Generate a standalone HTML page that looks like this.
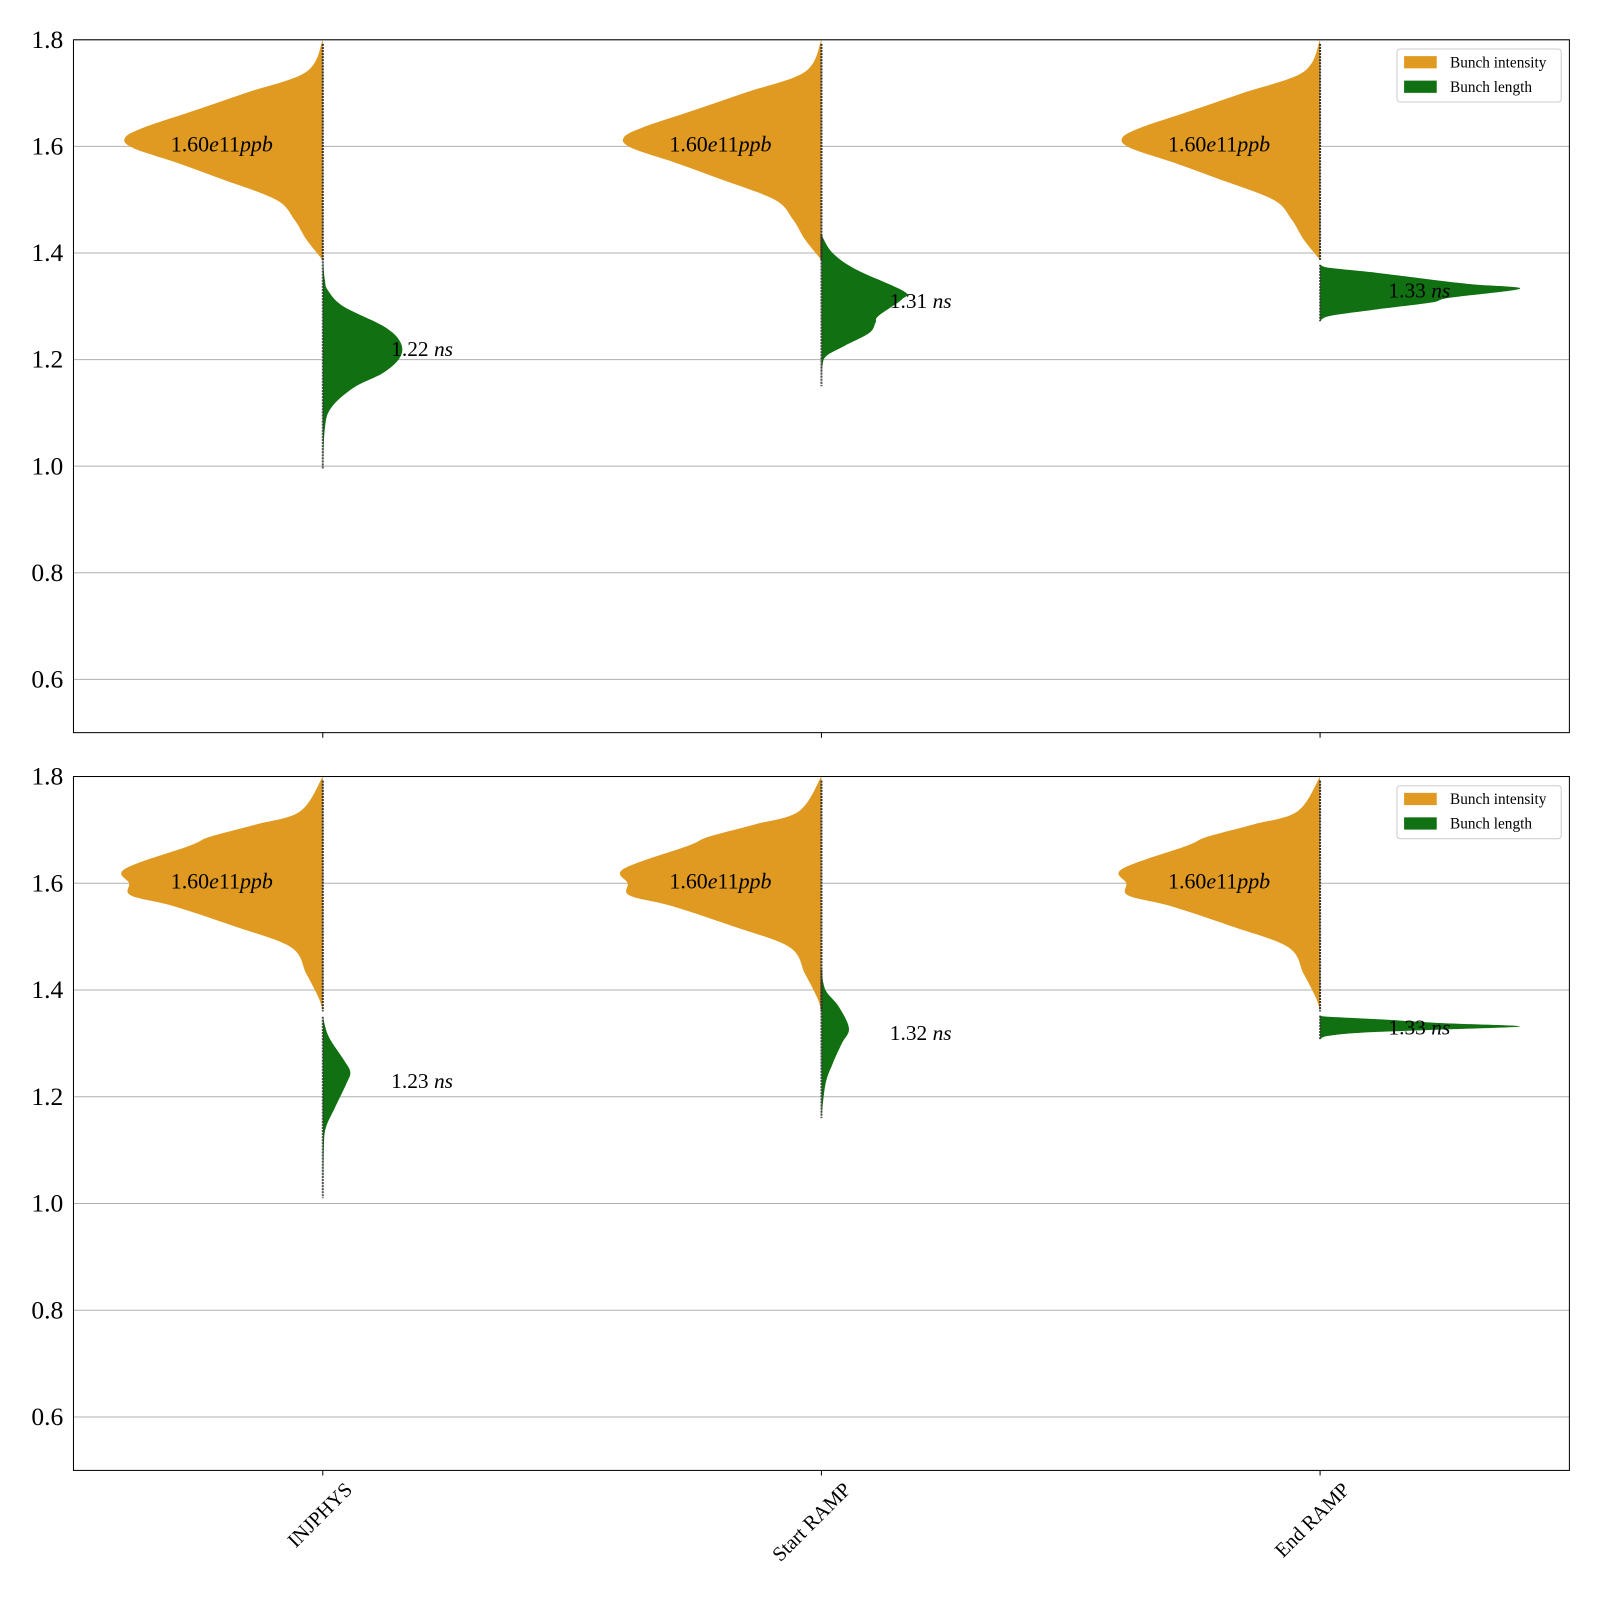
<!DOCTYPE html>
<html><head><meta charset="utf-8"><style>
html,body{margin:0;padding:0;background:#fff;}
svg{display:block;font-family:"Liberation Serif",serif;}
</style></head><body>
<svg id="chart" width="1600" height="1600" viewBox="0 0 1568 1568"></svg>
<script>
const categories = ["INJPHYS", "Start RAMP", "End RAMP"];
const yTicks = [0.6, 0.8, 1.0, 1.2, 1.4, 1.6, 1.8];
const intensityMeans = [[1.60, 1.60, 1.60], [1.60, 1.60, 1.60]];
const lengthMeans = [[1.22, 1.31, 1.33], [1.23, 1.32, 1.33]];
// orange intensity density profile (value, half-width in category units)
const orangeTopV = [1.80, 1.74, 1.70, 1.664, 1.635, 1.616, 1.597, 1.568, 1.54, 1.50, 1.463, 1.425, 1.387];
const orangeTopW = [0, 16, 76, 131, 176, 194, 186, 141, 101, 46, 28, 16, 0].map(w => w / 489);
const orangeBotV = [1.80, 1.735, 1.71, 1.687, 1.67, 1.627, 1.60, 1.577, 1.557, 1.519, 1.48, 1.43, 1.385, 1.36];
const orangeBotW = [0, 22, 66, 111, 131, 194, 190, 188, 146, 86, 31, 16, 4, 0].map(w => w / 489);
// green bunch-length density profiles per panel/category
const greenV = [
  [[1.39, 1.35, 1.33, 1.30, 1.262, 1.233, 1.205, 1.176, 1.147, 1.109, 1.07, 0.994],
   [1.434, 1.40, 1.369, 1.328, 1.313, 1.282, 1.269, 1.25, 1.226, 1.207, 1.188, 1.15],
   [1.378, 1.372, 1.363, 1.35, 1.341, 1.333, 1.316, 1.307, 1.294, 1.282, 1.272]],
  [[1.35, 1.312, 1.268, 1.246, 1.224, 1.18, 1.142, 1.104, 1.01],
   [1.438, 1.40, 1.369, 1.328, 1.30, 1.262, 1.224, 1.16],
   [1.352, 1.35, 1.345, 1.338, 1.332, 1.326, 1.32, 1.314, 1.308]]
];
const greenW = [
  [[0, 2, 5, 20, 60, 76, 76, 60, 30, 8, 2, 0],
   [0, 11, 34, 81, 79, 56, 53, 47, 23, 5, 1, 0],
   [0, 10, 55, 109, 150, 196, 127, 109, 55, 10, 0]],
  [[0, 6, 21, 27, 23, 12, 3, 1, 0],
   [0, 4, 17, 27, 20, 11, 4, 0],
   [0, 8, 60, 120, 196, 120, 40, 8, 0]]
].map(p => p.map(c => c.map(w => w / 489)));

const NS = "http://www.w3.org/2000/svg";
const svg = document.getElementById("chart");
function mk(tag, attrs, parent) {
  const e = document.createElementNS(NS, tag);
  for (const k in attrs) e.setAttribute(k, attrs[k]);
  (parent || svg).appendChild(e);
  return e;
}
const panels = [{top: 39, bottom: 718}, {top: 761, bottom: 1441}];
const L = 72, R = 1538;
function xScale(c) { return L + (c + 0.5) * (R - L) / 3; }
function yScaleFor(p) { return v => p.top + (1.8 - v) * (p.bottom - p.top) / 1.3; }
function smoothPath(pts) {
  let d = "M" + pts[0][0] + "," + pts[0][1];
  for (let i = 1; i < pts.length; i++) {
    const p0 = pts[Math.max(i - 2, 0)], p1 = pts[i - 1], p2 = pts[i], p3 = pts[Math.min(i + 1, pts.length - 1)];
    const c1 = [p1[0] + (p2[0] - p0[0]) / 6, p1[1] + (p2[1] - p0[1]) / 6];
    const c2 = [p2[0] - (p3[0] - p1[0]) / 6, p2[1] - (p3[1] - p1[1]) / 6];
    d += " C" + c1[0] + "," + c1[1] + " " + c2[0] + "," + c2[1] + " " + p2[0] + "," + p2[1];
  }
  return d + " Z";
}
panels.forEach((p, pi) => {
  const y = yScaleFor(p);
  const g = mk("g", {});
  
  
  yTicks.forEach(t => {
    const gl = mk("line", {x1: L, x2: R, y1: y(t), y2: y(t), stroke: "#b0b0b0", "stroke-width": 1}, g);
    
    
    const tl = mk("text", {x: 62, y: y(t) + 8, "text-anchor": "end", "font-size": 25, fill: "#000"}, g);
    tl.textContent = t.toFixed(1);
    
    
  });
  categories.forEach((c, ci) => {
    const cx = xScale(ci);
    const sc = (R - L) / 3;
    const oV = pi === 0 ? orangeTopV : orangeBotV, oW = pi === 0 ? orangeTopW : orangeBotW;
    const oPts = oV.map((v, i) => [cx - oW[i] * sc, y(v)]);
    oPts.push([cx, y(oV[oV.length - 1])]); oPts.unshift([cx, y(oV[0])]);
    const op = mk("path", {d: smoothPath(oPts), fill: "#e09a22"}, g);
    
    
    const gV = greenV[pi][ci], gW = greenW[pi][ci];
    const gPts = gV.map((v, i) => [cx + gW[i] * sc, y(v)]);
    gPts.push([cx, y(gV[gV.length - 1])]); gPts.unshift([cx, y(gV[0])]);
    const gp = mk("path", {d: smoothPath(gPts), fill: "#117011"}, g);
    
    
    const st1 = mk("line", {x1: cx, x2: cx, y1: y(oV[0]) + 4, y2: y(oV[oV.length - 1]), stroke: "#333", "stroke-width": 2, "stroke-dasharray": "2 1"}, g);
    
    
    const st2 = mk("line", {x1: cx, x2: cx, y1: y(gV[0]), y2: y(gV[gV.length - 1]), stroke: "#333", "stroke-width": 2, "stroke-dasharray": "2 1", opacity: 0.8}, g);
    
    
    const ol = mk("text", {x: cx - 149, y: y(intensityMeans[pi][ci]) + 5, "font-size": 21.5}, g);
    ol.innerHTML = intensityMeans[pi][ci].toFixed(2) + '<tspan font-style="italic">e</tspan>11<tspan font-style="italic">ppb</tspan>';
    
    
    const gl2 = mk("text", {x: cx + 67, y: y(lengthMeans[pi][ci]) + 7, "font-size": 21}, g);
    gl2.innerHTML = lengthMeans[pi][ci].toFixed(2) + ' <tspan font-style="italic">ns</tspan>';
    
    
    const tk = mk("line", {x1: cx, x2: cx, y1: p.bottom, y2: p.bottom + 5, stroke: "#000", "stroke-width": 1}, g);
    
    
    if (pi === 1) {
      const xl = mk("text", {x: 0, y: 0, "text-anchor": "end", "font-size": 20, transform: "translate(" + (cx + 30) + "," + (p.bottom + 20) + ") rotate(-45)"}, g);
      xl.textContent = c;
      
      
    }
  });
  const fr = mk("rect", {x: L, y: p.top, width: R - L, height: p.bottom - p.top, fill: "none", stroke: "#000", "stroke-width": 1}, g);
  
  
  const lg = mk("g", {}, g);
  
  
  mk("rect", {x: 1369, y: p.top + 9, width: 161, height: 52, fill: "#fff", stroke: "#ccc", rx: 3}, lg);
  [["Bunch intensity", "#e09a22"], ["Bunch length", "#117011"]].forEach((e, i) => {
    const en = mk("g", {}, lg);
    
    
    mk("rect", {x: 1376, y: p.top + 16 + i * 24, width: 32, height: 12, fill: e[1]}, en);
    const t = mk("text", {x: 1421, y: p.top + 27 + i * 24, "font-size": 15}, en);
    t.textContent = e[0];
  });
});
</script>
</body></html>
